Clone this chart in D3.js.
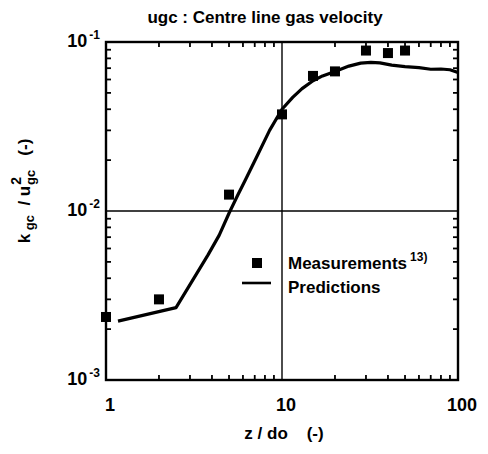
<!DOCTYPE html>
<html>
<head>
<meta charset="utf-8">
<script src="https://cdn.jsdelivr.net/npm/d3@7"></script>
<style>
  body { margin: 0; background: #fff; }
  text { font-family: "Liberation Sans", Arial, sans-serif; font-weight: bold; fill: #000; }
</style>
</head>
<body>
<div id="chart"></div>
<script>
// measured points (z/do, k/u^2)
const measX = [1, 2, 5, 10, 15, 20, 30, 40, 50];
const measY = [0.00236, 0.0030, 0.0125, 0.0373, 0.063, 0.067, 0.089, 0.086, 0.089];

// predicted curve
const predX = [1.17, 2.5, 3.8, 4.4, 5, 5.6, 6.2, 7.2, 8.5, 10, 11.5, 13, 15, 17, 20, 24, 28, 32, 36, 42, 50, 60, 70, 80, 90, 100];
const predY = [0.00223, 0.00268, 0.0055, 0.0072, 0.0097, 0.0124, 0.0153, 0.021, 0.030, 0.040, 0.047, 0.053, 0.059, 0.063, 0.067, 0.072, 0.075, 0.0757, 0.0752, 0.073, 0.0715, 0.0705, 0.069, 0.0692, 0.0685, 0.066];

const xTicks = [1, 10, 100];
const yTicks = [0.001, 0.01, 0.1];
const yExp = ["-3", "-2", "-1"];

const W = 488, H = 454;
const margin = {top: 42, right: 30, bottom: 74, left: 106};

const svg = d3.select("#chart").append("svg")
    .attr("width", W)
    .attr("height", H);

const x = d3.scaleLog().domain([1, 100]).range([margin.left, W - margin.right]);
const y = d3.scaleLog().domain([0.001, 0.1]).range([H - margin.bottom, margin.top]);

const x0 = x.range()[0], x1 = x.range()[1];
const y0 = y.range()[0], y1 = y.range()[1];

// minor ticks on all four sides
const minorX = [];
for (let d = 1; d < 100; d *= 10) for (let k = 2; k <= 9; k++) minorX.push(d * k);
const minorY = [];
for (let d = 0.001; d < 0.1; d *= 10) for (let k = 2; k <= 9; k++) minorY.push(d * k);

const ticks = svg.append("g").attr("stroke", "#000").attr("stroke-width", 1.8);
minorX.forEach(v => {
  ticks.append("line").attr("x1", x(v)).attr("x2", x(v)).attr("y1", y0).attr("y2", y0 - 5);
  ticks.append("line").attr("x1", x(v)).attr("x2", x(v)).attr("y1", y1).attr("y2", y1 + 5);
});
minorY.forEach(v => {
  ticks.append("line").attr("y1", y(v)).attr("y2", y(v)).attr("x1", x0).attr("x2", x0 + 5);
  ticks.append("line").attr("y1", y(v)).attr("y2", y(v)).attr("x1", x1).attr("x2", x1 - 5);
});

// grid lines at the inner decades
svg.append("line")
    .attr("x1", x(10)).attr("x2", x(10)).attr("y1", y0).attr("y2", y1)
    .attr("stroke", "#000").attr("stroke-width", 1.4);
svg.append("line")
    .attr("x1", x0).attr("x2", x1).attr("y1", y(0.01)).attr("y2", y(0.01))
    .attr("stroke", "#000").attr("stroke-width", 1.4);

// frame
svg.append("rect")
    .attr("x", x0).attr("y", y1)
    .attr("width", x1 - x0).attr("height", y0 - y1)
    .attr("fill", "none").attr("stroke", "#000").attr("stroke-width", 2.4);

// tick labels
svg.selectAll(".xlab")
    .data(xTicks)
    .join("text")
    .attr("class", "xlab")
    .attr("x", d => x(d) + 4)
    .attr("y", y0 + 31)
    .attr("text-anchor", "middle")
    .attr("font-size", 18)
    .text(d => d);

yTicks.forEach((v, i) => {
  const t = svg.append("text")
      .attr("x", x0 - 6)
      .attr("y", y(v) + 5)
      .attr("text-anchor", "end")
      .attr("font-size", 18);
  t.append("tspan").text("10");
  t.append("tspan").attr("dx", 2).attr("dy", -8).attr("font-size", 12).text(yExp[i]);
});

// prediction line
const line = d3.line()
    .x(d => x(d[0]))
    .y(d => y(d[1]));

svg.append("path")
    .datum(predX.map((v, i) => [v, predY[i]]))
    .attr("d", line)
    .attr("fill", "none")
    .attr("stroke", "#000")
    .attr("stroke-width", 3.2)
    .attr("stroke-linejoin", "round");

// measurement squares
const sq = 10;
svg.selectAll(".meas")
    .data(measX.map((v, i) => [v, measY[i]]))
    .join("rect")
    .attr("class", "meas")
    .attr("x", d => x(d[0]) - sq / 2)
    .attr("y", d => y(d[1]) - sq / 2)
    .attr("width", sq)
    .attr("height", sq)
    .attr("fill", "#000");

// legend
svg.append("rect")
    .attr("x", 252).attr("y", 258).attr("width", sq).attr("height", sq).attr("fill", "#000");
svg.append("line")
    .attr("x1", 242).attr("x2", 271).attr("y1", 283).attr("y2", 283)
    .attr("stroke", "#000").attr("stroke-width", 2.6);
const lm = svg.append("text").attr("x", 288).attr("y", 269).attr("font-size", 17);
lm.append("tspan").text("Measurements");
lm.append("tspan").attr("dx", 3).attr("dy", -8).attr("font-size", 12).text("13)");
svg.append("text").attr("x", 288).attr("y", 293).attr("font-size", 17).text("Predictions");

// title
svg.append("text")
    .attr("x", 265).attr("y", 23)
    .attr("text-anchor", "middle")
    .attr("font-size", 17)
    .text("ugc : Centre line gas velocity");

// x axis title
svg.append("text")
    .attr("x", (x0 + x1) / 2 + 2).attr("y", y0 + 59)
    .attr("text-anchor", "middle")
    .attr("font-size", 17)
    .attr("xml:space", "preserve")
    .text("z / do    (-)");

// y axis title
const yl = svg.append("text")
    .attr("transform", `translate(30,${(y0 + y1) / 2 - 20}) rotate(-90)`)
    .attr("text-anchor", "middle")
    .attr("font-size", 17)
    .attr("xml:space", "preserve");
yl.append("tspan").text("k");
yl.append("tspan").attr("dy", 4).attr("font-size", 13).text(" gc");
yl.append("tspan").attr("dy", -4).text("  / u");
yl.append("tspan").attr("dx", 1).attr("dy", -9).attr("font-size", 14).text("2");
yl.append("tspan").attr("dx", -8).attr("dy", 14).attr("font-size", 13).text("gc");
yl.append("tspan").attr("dy", -5).text("   (-)");
</script>
</body>
</html>
